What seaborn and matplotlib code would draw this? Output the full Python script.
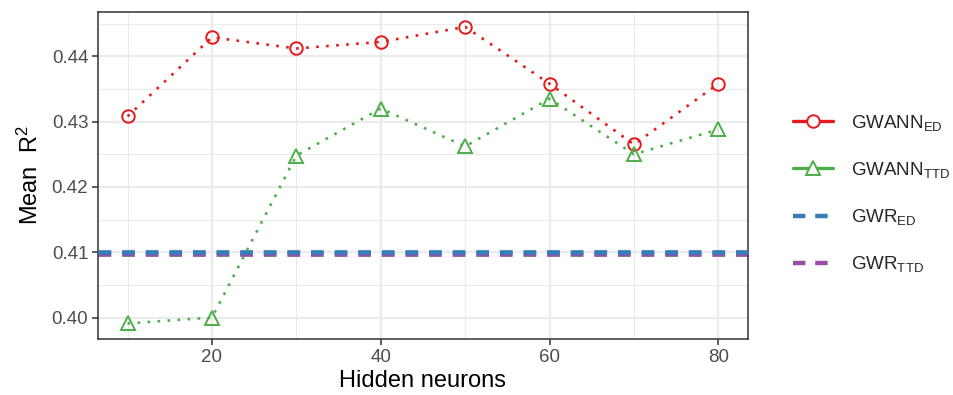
import matplotlib
matplotlib.use("Agg")
import matplotlib.pyplot as plt
import seaborn as sns
import pandas as pd
from matplotlib.lines import Line2D

neurons = [10, 20, 30, 40, 50, 60, 70, 80]
gwann_ed = [0.4308, 0.4429, 0.4412, 0.4422, 0.4445, 0.4358, 0.4265, 0.4358]
gwann_ttd = [0.3991, 0.4000, 0.4248, 0.4320, 0.4262, 0.4335, 0.4250, 0.4288]
gwr_ed = 0.41005
gwr_ttd = 0.40980
labels = [r"GWANN$_{\mathrm{ED}}$", r"GWANN$_{\mathrm{TTD}}$",
          r"GWR$_{\mathrm{ED}}$", r"GWR$_{\mathrm{TTD}}$"]
colors = ["#E41A1C", "#4DAF4A", "#377EB8", "#984EA3"]

sns.set_theme(style="whitegrid")
plt.rcParams["font.family"] = ["Liberation Sans", "DejaVu Sans"]
plt.rcParams["mathtext.fontset"] = "custom"
plt.rcParams["mathtext.rm"] = "Liberation Sans"
plt.rcParams["mathtext.it"] = "Liberation Sans"

fig = plt.figure(figsize=(9.54, 3.95), dpi=100)
ax = fig.add_axes([0.1027, 0.1418, 0.784 - 0.1027, 0.9696 - 0.1418])

df = pd.DataFrame({"x": neurons, "ed": gwann_ed, "ttd": gwann_ttd})

dash = (0, (2.7, 2.3))
ax.axhline(gwr_ttd, color=colors[3], lw=3.4, ls=dash, zorder=2)
ax.axhline(gwr_ed, color=colors[2], lw=3.4, ls=dash, zorder=3)

sns.lineplot(data=df, x="x", y="ed", ax=ax, color=colors[0], lw=1.9,
             linestyle=(0, (1, 2.8)), marker="o", markersize=9,
             markerfacecolor="none", markeredgecolor=colors[0],
             markeredgewidth=1.4, zorder=4)
sns.lineplot(data=df, x="x", y="ttd", ax=ax, color=colors[1], lw=1.9,
             linestyle=(0, (1, 2.8)), marker="^", markersize=10,
             markerfacecolor="none", markeredgecolor=colors[1],
             markeredgewidth=1.4, zorder=4)

ax.set_xlim(6.5, 83.5)
ax.set_ylim(0.39672, 0.44678)
ax.set_xticks([20, 40, 60, 80])
ax.set_xticks([10, 30, 50, 70], minor=True)
ax.set_yticks([0.40, 0.41, 0.42, 0.43, 0.44])
ax.set_yticks([0.405, 0.415, 0.425, 0.435, 0.445], minor=True)
ax.set_yticklabels(["0.40", "0.41", "0.42", "0.43", "0.44"])
ax.grid(which="major", color="#EBEBEB", lw=1.6)
ax.grid(which="minor", color="#EBEBEB", lw=0.8)
ax.set_facecolor("white")
for s in ax.spines.values():
    s.set_color("#333333")
    s.set_linewidth(1.1)
ax.tick_params(axis="both", which="major", length=4, width=1.1, color="#333333",
               labelsize=13.5, labelcolor="#4D4D4D", bottom=True, left=True, pad=3)
ax.tick_params(axis="both", which="minor", length=0)
ax.set_xlabel("Hidden neurons", fontsize=17, color="black", labelpad=3)
ax.set_ylabel(r"Mean  R$^2$", fontsize=17, color="black", labelpad=6)

handles = [
    Line2D([], [], color=colors[0], lw=2.4, marker="o", markersize=9,
           markerfacecolor="white", markeredgecolor=colors[0], markeredgewidth=1.4),
    Line2D([], [], color=colors[1], lw=2.4, marker="^", markersize=10,
           markerfacecolor="white", markeredgecolor=colors[1], markeredgewidth=1.4),
    Line2D([], [], color=colors[2], lw=3.2, ls=(0, (2.8, 2.2))),
    Line2D([], [], color=colors[3], lw=3.2, ls=(0, (2.8, 2.2))),
]
fig.legend(handles, labels, loc="center left", bbox_to_anchor=(0.814, 0.51),
           frameon=False, fontsize=13.5, handlelength=2.1, labelspacing=1.45,
           handletextpad=0.95)

fig.savefig("out.png", dpi=100, facecolor="white")
